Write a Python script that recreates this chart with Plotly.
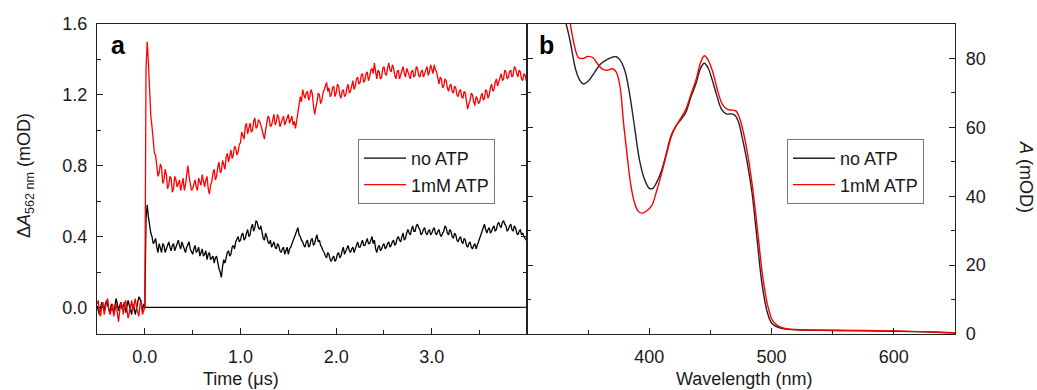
import plotly.graph_objects as go

# ---------------- Panel a: transient absorption at 562 nm ----------------
t_start, t_step = -0.5, 0.0125  # sampling grid of the time traces (µs)

dA_noATP = [
    0.01, -0.02, -0.04, 0.00, 0.03, 0.01, -0.02, 0.02, 0.04, 0.01, -0.01, -0.03, 0.02, 0.00, -0.03, 0.01, 0.05, 0.02, -0.02, 0.01,
    0.03, -0.01, 0.01, 0.03, -0.03, 0.00, 0.04, 0.01, -0.02, -0.04, 0.02, 0.00, -0.04, -0.01, 0.03, 0.06, 0.05, 0.01, -0.02, 0.02,
    0.00, 0.50, 0.58, 0.51, 0.46, 0.42, 0.40, 0.36, 0.37, 0.39, 0.34, 0.31, 0.36, 0.33, 0.31, 0.36, 0.35, 0.31, 0.33, 0.36,
    0.37, 0.34, 0.32, 0.35, 0.36, 0.32, 0.34, 0.37, 0.38, 0.35, 0.33, 0.37, 0.35, 0.32, 0.31, 0.34, 0.36, 0.37, 0.33, 0.31,
    0.30, 0.33, 0.35, 0.31, 0.32, 0.34, 0.29, 0.31, 0.33, 0.29, 0.30, 0.32, 0.27, 0.30, 0.31, 0.27, 0.28, 0.29, 0.25, 0.28,
    0.29, 0.25, 0.22, 0.20, 0.17, 0.23, 0.27, 0.25, 0.29, 0.31, 0.32, 0.29, 0.30, 0.34, 0.35, 0.33, 0.37, 0.39, 0.40, 0.37,
    0.38, 0.41, 0.42, 0.38, 0.39, 0.42, 0.44, 0.40, 0.41, 0.45, 0.47, 0.43, 0.45, 0.49, 0.48, 0.45, 0.44, 0.46, 0.41, 0.39,
    0.38, 0.42, 0.40, 0.37, 0.36, 0.38, 0.34, 0.36, 0.37, 0.34, 0.33, 0.36, 0.35, 0.32, 0.31, 0.33, 0.34, 0.30, 0.32, 0.34,
    0.30, 0.33, 0.34, 0.36, 0.38, 0.40, 0.42, 0.44, 0.45, 0.41, 0.40, 0.38, 0.37, 0.35, 0.34, 0.37, 0.38, 0.34, 0.35, 0.38,
    0.39, 0.35, 0.36, 0.39, 0.41, 0.37, 0.38, 0.35, 0.34, 0.32, 0.31, 0.29, 0.28, 0.31, 0.30, 0.27, 0.26, 0.28, 0.29, 0.26,
    0.27, 0.30, 0.31, 0.28, 0.29, 0.32, 0.34, 0.30, 0.32, 0.34, 0.35, 0.32, 0.31, 0.33, 0.34, 0.31, 0.33, 0.35, 0.37, 0.34,
    0.34, 0.36, 0.38, 0.35, 0.35, 0.37, 0.39, 0.36, 0.36, 0.38, 0.40, 0.36, 0.38, 0.33, 0.31, 0.34, 0.35, 0.32, 0.33, 0.35,
    0.36, 0.33, 0.34, 0.36, 0.37, 0.34, 0.35, 0.37, 0.38, 0.35, 0.36, 0.39, 0.40, 0.38, 0.37, 0.40, 0.42, 0.38, 0.39, 0.42,
    0.44, 0.42, 0.41, 0.44, 0.46, 0.43, 0.43, 0.46, 0.47, 0.45, 0.44, 0.41, 0.42, 0.44, 0.45, 0.42, 0.41, 0.43, 0.44, 0.41,
    0.42, 0.44, 0.45, 0.42, 0.41, 0.43, 0.44, 0.41, 0.40, 0.42, 0.43, 0.46, 0.45, 0.42, 0.41, 0.44, 0.43, 0.40, 0.39, 0.42,
    0.41, 0.38, 0.37, 0.39, 0.40, 0.37, 0.36, 0.39, 0.38, 0.35, 0.34, 0.36, 0.37, 0.34, 0.33, 0.35, 0.36, 0.33, 0.35, 0.37,
    0.39, 0.41, 0.43, 0.45, 0.47, 0.44, 0.42, 0.44, 0.45, 0.42, 0.43, 0.45, 0.46, 0.43, 0.44, 0.47, 0.48, 0.46, 0.45, 0.48,
    0.49, 0.47, 0.46, 0.43, 0.44, 0.46, 0.47, 0.44, 0.43, 0.46, 0.45, 0.42, 0.41, 0.43, 0.44, 0.41, 0.42, 0.40, 0.39, 0.38,
    0.37,
]

dA_ATP = [
    0.02, 0.04, -0.03, -0.05, 0.01, 0.03, -0.04, 0.00, 0.03, 0.05, -0.02, -0.04, 0.00, 0.02, -0.05, -0.02, 0.02, -0.03, -0.08, -0.02,
    0.03, 0.01, -0.04, 0.02, 0.04, -0.01, -0.06, -0.03, 0.01, 0.04, -0.02, 0.01, 0.05, 0.00, -0.03, -0.05, 0.02, 0.04, -0.04, -0.02,
    0.00, 1.35, 1.50, 1.38, 1.22, 1.08, 1.02, 0.92, 0.87, 0.86, 0.80, 0.74, 0.76, 0.81, 0.79, 0.70, 0.72, 0.78, 0.75, 0.67,
    0.69, 0.74, 0.73, 0.65, 0.67, 0.74, 0.72, 0.68, 0.70, 0.72, 0.66, 0.70, 0.73, 0.66, 0.69, 0.75, 0.80, 0.74, 0.70, 0.66,
    0.67, 0.70, 0.72, 0.68, 0.66, 0.73, 0.71, 0.69, 0.75, 0.71, 0.68, 0.72, 0.74, 0.67, 0.64, 0.69, 0.71, 0.76, 0.78, 0.72,
    0.74, 0.79, 0.82, 0.76, 0.77, 0.83, 0.80, 0.78, 0.85, 0.87, 0.82, 0.86, 0.89, 0.84, 0.86, 0.91, 0.90, 0.86, 0.88, 0.92,
    0.93, 0.99, 0.97, 0.95, 1.02, 1.04, 0.98, 1.01, 1.04, 0.99, 1.00, 1.05, 1.07, 1.01, 1.02, 1.06, 1.05, 1.03, 1.00, 0.97,
    0.95, 1.00, 1.04, 1.08, 1.07, 1.02, 1.03, 1.06, 1.09, 1.03, 1.05, 1.09, 1.07, 1.02, 1.04, 1.06, 1.08, 1.03, 1.05, 1.08,
    1.09, 1.04, 1.06, 1.08, 1.03, 1.05, 1.01, 1.06, 1.12, 1.17, 1.19, 1.16, 1.23, 1.20, 1.18, 1.21, 1.22, 1.17, 1.19, 1.23,
    1.21, 1.14, 1.09, 1.13, 1.16, 1.21, 1.20, 1.15, 1.17, 1.21, 1.23, 1.25, 1.27, 1.22, 1.24, 1.19, 1.20, 1.24, 1.25, 1.19,
    1.21, 1.26, 1.25, 1.20, 1.18, 1.22, 1.23, 1.19, 1.20, 1.24, 1.26, 1.21, 1.22, 1.25, 1.28, 1.23, 1.25, 1.29, 1.30, 1.26,
    1.27, 1.31, 1.32, 1.27, 1.28, 1.32, 1.33, 1.28, 1.30, 1.34, 1.35, 1.32, 1.38, 1.33, 1.29, 1.34, 1.33, 1.29, 1.30, 1.35,
    1.36, 1.32, 1.31, 1.35, 1.38, 1.34, 1.33, 1.37, 1.35, 1.31, 1.29, 1.33, 1.34, 1.29, 1.31, 1.34, 1.36, 1.32, 1.30, 1.35,
    1.33, 1.30, 1.29, 1.33, 1.34, 1.30, 1.31, 1.36, 1.35, 1.31, 1.30, 1.33, 1.34, 1.30, 1.32, 1.35, 1.36, 1.31, 1.33, 1.37,
    1.35, 1.32, 1.37, 1.34, 1.33, 1.29, 1.26, 1.30, 1.29, 1.24, 1.25, 1.29, 1.28, 1.24, 1.22, 1.25, 1.26, 1.22, 1.21, 1.25,
    1.24, 1.20, 1.19, 1.22, 1.23, 1.19, 1.18, 1.22, 1.21, 1.16, 1.12, 1.15, 1.17, 1.21, 1.20, 1.16, 1.14, 1.19, 1.18, 1.15,
    1.16, 1.19, 1.21, 1.17, 1.18, 1.23, 1.22, 1.18, 1.20, 1.24, 1.26, 1.22, 1.23, 1.27, 1.29, 1.25, 1.27, 1.30, 1.32, 1.28,
    1.29, 1.34, 1.33, 1.29, 1.30, 1.33, 1.34, 1.30, 1.31, 1.36, 1.35, 1.32, 1.30, 1.34, 1.33, 1.29, 1.28, 1.32, 1.31, 1.28,
    1.26,
]

assert len(dA_ATP) == len(dA_noATP) == 361
time_us = [round(t_start + t_step * i, 5) for i in range(len(dA_ATP))]

baseline_t = [0.0, 4.0]
baseline_v = [0.0, 0.0]

# ---------------- Panel b: steady-state absorption spectra ----------------
wl_noATP = [325, 330, 335, 340, 343, 346, 350, 355, 360, 365, 370, 373, 376, 380, 384, 388, 392, 396,
            400, 403, 406, 410, 414, 418, 422, 426, 430, 434, 438, 442, 445, 448, 451, 455, 459, 463,
            467, 470, 473, 476, 480, 484, 488, 492, 496, 500, 505, 510, 520, 550, 600, 630, 650]
abs_noATP = [100, 93, 85.5, 76.5, 73.8, 72.6, 73.4, 75.8, 78.3, 79.6, 80.4, 80.5, 79.6, 76.5, 69.5, 60, 50.5, 45,
             42.3, 42.3, 44, 47.4, 52.5, 57.8, 60.5, 62.3, 64.5, 68.8, 72.5, 77.2, 78.6, 77.3, 74.3, 69.5, 65.3, 63.9,
             63.9, 63.5, 61.5, 57, 50, 41, 28, 15, 7, 3.2, 2, 1.5, 1.2, 1.0, 0.8, 0.6, 0.3]

wl_ATP = [325, 330, 334, 338, 342, 346, 350, 354, 358, 362, 366, 370, 373, 376, 379, 382, 385, 388, 391,
          394, 398, 402, 406, 410, 414, 418, 422, 426, 430, 434, 438, 442, 445, 448, 452, 456, 460, 464,
          468, 471, 474, 477, 481, 485, 489, 493, 497, 501, 506, 511, 520, 550, 600, 630, 650]
abs_ATP = [110, 100, 93, 85, 80.3, 80, 80.6, 80.2, 78.3, 76.8, 76.6, 77, 76, 72, 61, 51.5, 43, 38, 35.6,
           35.1, 35.8, 37.3, 41.5, 46.5, 52, 57.3, 60.5, 62.8, 65.3, 69.5, 73.5, 78.8, 80.8, 79.6, 76, 70.5, 66.5, 65.2,
           65, 64.7, 62.5, 58.5, 51, 41, 28.5, 16, 8, 3.8, 2.2, 1.6, 1.3, 1.1, 0.9, 0.6, 0.4]

series_names = ["no ATP", "1mM ATP"]
series_colors = ["#000000", "#ff0000"]

FONT = "Arial, 'Liberation Sans', sans-serif"
TXT = "#1a1a1a"
FS = 18

fig = go.Figure()

# panel a
fig.add_trace(go.Scatter(x=baseline_t, y=baseline_v, mode="lines", line=dict(color="black", width=1.2),
                         showlegend=False, xaxis="x", yaxis="y", hoverinfo="skip"))
fig.add_trace(go.Scatter(x=time_us, y=dA_noATP, mode="lines", name=series_names[0],
                         line=dict(color=series_colors[0], width=1.3), xaxis="x", yaxis="y", legend="legend"))
fig.add_trace(go.Scatter(x=time_us, y=dA_ATP, mode="lines", name=series_names[1],
                         line=dict(color=series_colors[1], width=1.3), xaxis="x", yaxis="y", legend="legend"))

# panel b
fig.add_trace(go.Scatter(x=wl_noATP, y=abs_noATP, mode="lines", name=series_names[0], line_shape="spline",
                         line=dict(color="#222222", width=1.4), xaxis="x2", yaxis="y2", legend="legend2"))
fig.add_trace(go.Scatter(x=wl_ATP, y=abs_ATP, mode="lines", name=series_names[1], line_shape="spline",
                         line=dict(color=series_colors[1], width=1.4), xaxis="x2", yaxis="y2", legend="legend2"))

W, H = 1037, 390
L, R, T, B = 97, 82, 24, 56
pw = W - L - R
ph = H - T - B
split = (527 - L) / pw

axis_common = dict(showline=True, linecolor="#222222", linewidth=1.3, ticks="inside",
                   tickcolor="#222222", showgrid=False, zeroline=False,
                   tickfont=dict(family=FONT, size=FS, color=TXT))

legend_common = dict(xanchor="left", yanchor="top", bgcolor="white", bordercolor="#777777", borderwidth=1,
                     font=dict(family=FONT, size=FS, color=TXT), tracegroupgap=0, itemwidth=42)

fig.update_layout(
    width=W, height=H,
    margin=dict(l=L, r=R, t=T, b=B),
    paper_bgcolor="white", plot_bgcolor="white",
    font=dict(family=FONT, size=FS, color=TXT),
    xaxis=dict(domain=[0, split], range=[-0.5, 3.995], anchor="y", mirror=True,
               tickvals=[0, 1, 2, 3], ticktext=["0.0", "1.0", "2.0", "3.0"], ticklen=6, tickwidth=1.2,
               ticklabelstandoff=6,
               minor=dict(tickvals=[-0.5, 0.5, 1.5, 2.5, 3.5], ticklen=4, tickcolor="#222222", ticks="inside"),
               **axis_common),
    yaxis=dict(domain=[0, 1], range=[-0.15, 1.6], anchor="x", mirror="ticks",
               tick0=0, dtick=0.4, tickformat=".1f", ticklen=6, tickwidth=1.2, ticklabelstandoff=5,
               minor=dict(dtick=0.2, tick0=0, ticklen=4, tickcolor="#222222", ticks="inside"),
               **axis_common),
    xaxis2=dict(domain=[split, 1], range=[300, 650], anchor="y2", mirror=True,
                tickvals=[400, 500, 600], ticklen=6, tickwidth=1.2, ticklabelstandoff=6,
                minor=dict(tickvals=[350, 450, 550], ticklen=4, tickcolor="#222222", ticks="inside"),
                **axis_common),
    yaxis2=dict(domain=[0, 1], range=[0, 90], anchor="x2", side="right", mirror="ticks",
                tick0=0, dtick=20, ticklen=6, tickwidth=1.2, ticklabelstandoff=6,
                minor=dict(dtick=10, tick0=0, ticklen=4, tickcolor="#222222", ticks="inside"),
                **axis_common),
    legend=dict(x=(358 - L) / pw, y=(334 - 139) / ph, **legend_common),
    legend2=dict(x=(787 - L) / pw, y=(334 - 139) / ph, **legend_common),
    showlegend=True,
)

annotations = [
    dict(text="<b>a</b>", x=(109 - L) / pw, y=(334 - 45) / ph, xanchor="left", yanchor="middle",
         font=dict(family=FONT, size=25, color="black")),
    dict(text="<b>b</b>", x=(537 - L) / pw, y=(334 - 45) / ph, xanchor="left", yanchor="middle",
         font=dict(family=FONT, size=25, color="black")),
    dict(text="Time (\u03bcs)", x=(241 - L) / pw, y=(334 - 379) / ph, xanchor="center", yanchor="middle",
         font=dict(family=FONT, size=FS, color=TXT)),
    dict(text="Wavelength (nm)", x=(744 - L) / pw, y=(334 - 379) / ph, xanchor="center", yanchor="middle",
         font=dict(family=FONT, size=FS, color=TXT)),
    dict(text="\u0394<i>A</i><sub>562 nm</sub> (mOD)", x=(25 - L) / pw, y=(334 - 176) / ph,
         xanchor="center", yanchor="middle", textangle=-90, font=dict(family=FONT, size=FS, color=TXT)),
    dict(text="<i>A</i> (mOD)", x=(1026 - L) / pw, y=(334 - 177) / ph,
         xanchor="center", yanchor="middle", textangle=90, font=dict(family=FONT, size=FS, color=TXT)),
]
for a in annotations:
    a.update(xref="paper", yref="paper", showarrow=False)
fig.update_layout(annotations=annotations)

fig.write_html("out.html", config={"displayModeBar": False},
               post_script="document.body.style.margin='0';document.body.style.overflow='hidden';")
